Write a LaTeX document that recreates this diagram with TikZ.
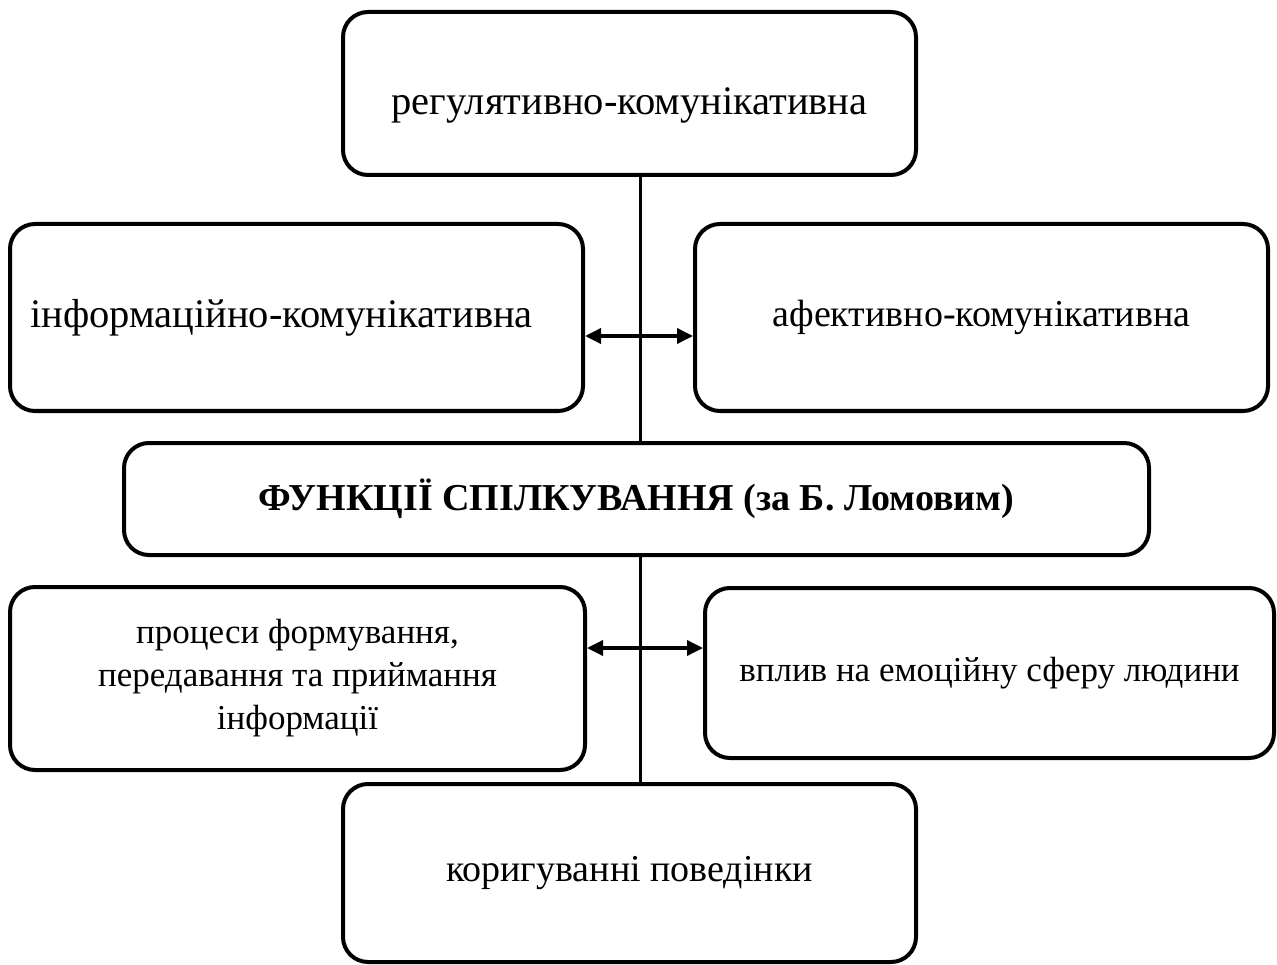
\documentclass[tikz,border=0pt]{standalone}
\usepackage{fontspec}
\setmainfont{Liberation Serif}
\usetikzlibrary{arrows.meta}

\begin{document}
\begin{tikzpicture}[x=1pt,y=-1pt,
  fbox/.style={draw=black, line width=4pt, rounded corners=25pt, align=center,
    inner sep=0pt, font=\fontsize{38}{43}\selectfont},
  link/.style={black, line width=3.5pt, {Triangle[length=16pt,width=15pt]}-{Triangle[length=16pt,width=15pt]}}]
\useasboundingbox (0,0) rectangle (1277,965);
\node[fbox, minimum width=573pt, minimum height=163pt, font=\fontsize{40.5}{46}\selectfont,
  text height=50pt, text depth=7pt] (reg) at (629.5,93.5) {регулятивно-комунікативна};
\node[fbox, minimum width=573pt, minimum height=187pt, font=\fontsize{40.5}{46}\selectfont] (info) at (296.5,317.5) {\hspace*{-30pt}інформаційно-комунікативна};
\node[fbox, minimum width=573pt, minimum height=187pt] (afekt) at (981.5,317.5) {афективно-комунікативна};
\node[fbox, minimum width=1025pt, minimum height=112pt, font=\fontsize{38}{43}\selectfont\bfseries] (fun) at (636.5,499) {ФУНКЦІЇ СПІЛКУВАННЯ (за Б. Ломовим)};
\node[fbox, minimum width=575pt, minimum height=183pt, font=\fontsize{35}{43}\selectfont] (proc) at (297.5,678.5) {процеси формування,\\передавання та приймання\\інформації};
\node[fbox, minimum width=569pt, minimum height=170pt, font=\fontsize{35}{43}\selectfont] (vplyv) at (989.5,673) {вплив на емоційну сферу людини};
\node[fbox, minimum width=573pt, minimum height=178pt] (kor) at (629.5,873) {коригуванні поведінки};
\coordinate (spine) at (640,0);
\coordinate (row1) at (0,336);
\coordinate (row2) at (0,648);
\draw[line width=3pt] (reg.south -| spine) -- (fun.north -| spine);
\draw[line width=3pt] (fun.south -| spine) -- (kor.north -| spine);
\draw[link] (info.east |- row1) -- (afekt.west |- row1);
\draw[link] (proc.east |- row2) -- (vplyv.west |- row2);
\end{tikzpicture}
\end{document}
